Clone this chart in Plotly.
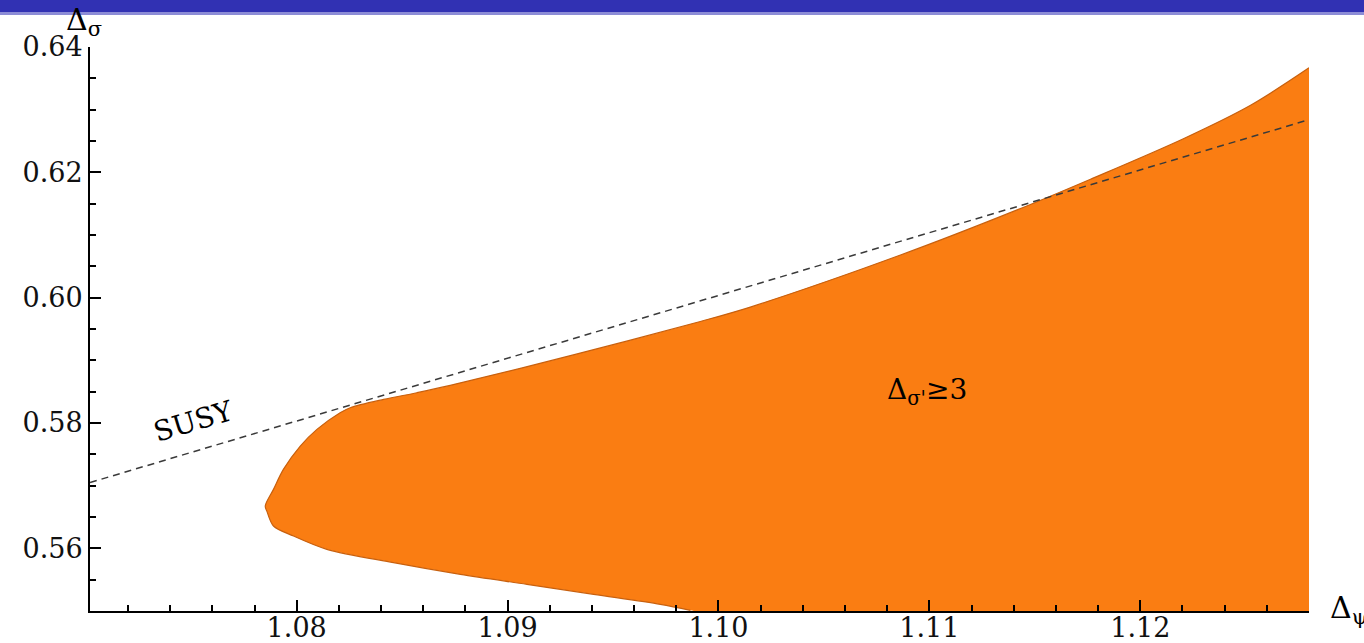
import plotly.graph_objects as go

# Boundary of the allowed region (Delta_sigma' >= 3)
upper_x = [1.07851, 1.07890, 1.07937, 1.08017, 1.08096, 1.08206, 1.08254, 1.08412,
           1.08570, 1.08728, 1.09321, 1.09914, 1.10151, 1.10863, 1.11416, 1.11764,
           1.12207, 1.12523, 1.12800]
upper_y = [0.56675, 0.56941, 0.57260, 0.57632, 0.57898, 0.58164, 0.58244, 0.58376,
           0.58483, 0.58600, 0.59094, 0.59620, 0.59850, 0.60680, 0.61400, 0.61890,
           0.62540, 0.63070, 0.63667]
lower_x = [1.07859, 1.07890, 1.07985, 1.08143, 1.08459, 1.08776, 1.09092, 1.09408,
           1.09724, 1.09867]
lower_y = [0.56590, 0.56356, 0.56196, 0.55984, 0.55772, 0.55585, 0.55426, 0.55266,
           0.55107, 0.55011]

# SUSY line
susy_x = [1.0702, 1.1280]
susy_y = [0.5705, 0.6284]

x_range = [1.0702, 1.1280]
y_range = [0.55, 0.64]
x_ticks = [1.08, 1.09, 1.10, 1.11, 1.12]
y_ticks = [0.56, 0.58, 0.60, 0.62, 0.64]

orange = "#FA7D12"
edge = "#C8600E"

# closed outline: upper boundary (right -> nose), lower boundary (nose -> axis),
# then out of view below the axis and up the right edge
poly_x = upper_x[::-1] + lower_x + [1.1050, 1.1320, 1.1320]
poly_y = upper_y[::-1] + lower_y + [0.5460, 0.5440, upper_y[-1]]

fig = go.Figure()
fig.add_trace(go.Scatter(x=poly_x, y=poly_y, fill="toself", fillcolor=orange,
                         mode="lines",
                         line=dict(width=0, color=orange, shape="spline", smoothing=0.9),
                         hoverinfo="skip", showlegend=False))
curve_x = upper_x[::-1] + lower_x
curve_y = upper_y[::-1] + lower_y
fig.add_trace(go.Scatter(x=curve_x, y=curve_y, mode="lines",
                         line=dict(width=1.2, color=edge, shape="spline", smoothing=0.9),
                         hoverinfo="skip", showlegend=False))
fig.add_trace(go.Scatter(x=susy_x, y=susy_y, mode="lines",
                         line=dict(width=1.5, color="#3a3a3a", dash="7px,5px"),
                         hoverinfo="skip", showlegend=False))

serif = "DejaVu Serif"
axis_common = dict(showgrid=False, zeroline=False, showline=True, linecolor="black",
                   linewidth=2, ticks="inside", tickcolor="black", tickwidth=2,
                   ticklen=11, tickformat=".2f", automargin=False,
                   tickfont=dict(family=serif, size=27, color="#111111"))
fig.update_xaxes(range=x_range, tickvals=x_ticks, ticklabelstandoff=-8,
                 minor=dict(dtick=0.002, tick0=1.07, ticks="inside", ticklen=6,
                            tickwidth=2, tickcolor="black"),
                 **axis_common)
fig.update_yaxes(range=y_range, tickvals=y_ticks,
                 minor=dict(dtick=0.005, tick0=0.55, ticks="inside", ticklen=6,
                            tickwidth=2, tickcolor="black"),
                 **axis_common)

fig.update_layout(
    width=1364, height=643,
    margin=dict(l=90, r=55, t=47, b=32, autoexpand=False),
    paper_bgcolor="white", plot_bgcolor="white",
    shapes=[
        dict(type="rect", xref="paper", yref="paper", x0=-0.08, x1=1.05,
             y0=1 + 35 / 564, y1=1 + 48 / 564, fillcolor="#3131B3",
             line=dict(width=0), layer="below"),
        dict(type="rect", xref="paper", yref="paper", x0=-0.08, x1=1.05,
             y0=1 + 32 / 564, y1=1 + 35 / 564, fillcolor="#8C8CD6",
             line=dict(width=0), layer="below"),
    ],
    annotations=[
        dict(text="Δ<sub>σ</sub>", xref="paper", yref="paper", x=-26 / 1219, y=1 + 47 / 564,
             xanchor="left", yanchor="top", showarrow=False,
             font=dict(family=serif, size=30, color="black")),
        dict(text="Δ<sub>ψ</sub>", xref="paper", yref="paper", x=1 + 19 / 1219, y=2 / 564,
             xanchor="left", yanchor="middle", showarrow=False,
             font=dict(family=serif, size=30, color="black")),
        dict(text="SUSY", x=1.07509, y=0.58020, showarrow=False, textangle=-16.6,
             font=dict(family=serif, size=28, color="black")),
        dict(text="Δ<sub>σ'</sub>≥3", x=1.1099, y=0.5850, showarrow=False,
             font=dict(family=serif, size=28, color="black")),
    ],
)

fig.write_html("out.html")
